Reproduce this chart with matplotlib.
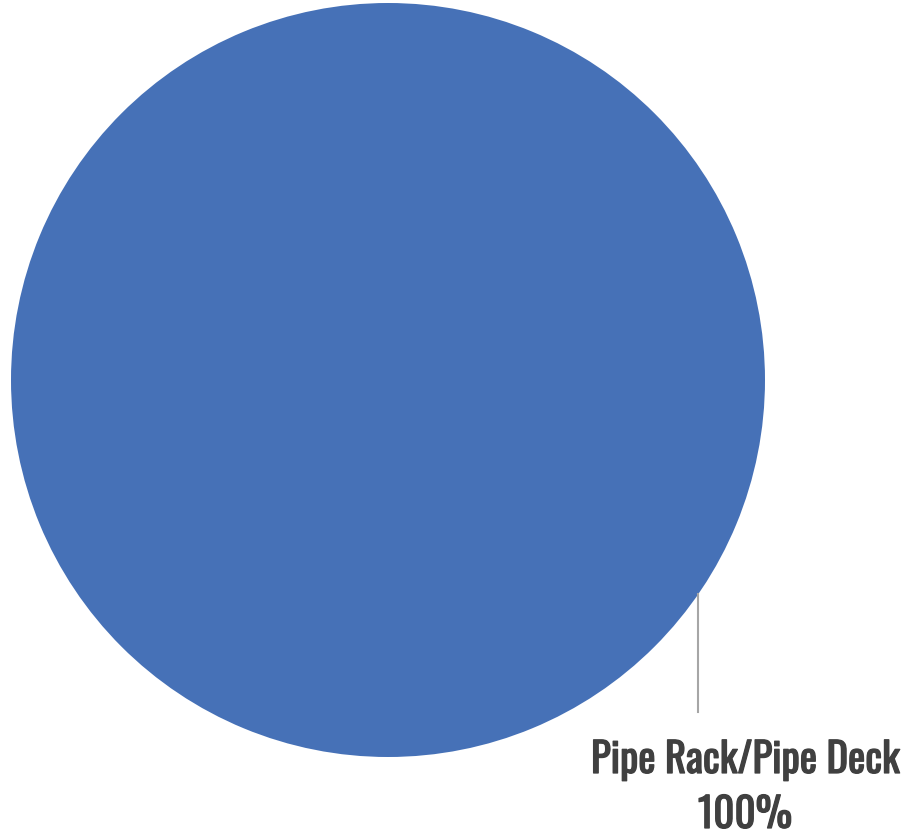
import matplotlib
matplotlib.use("Agg")
import matplotlib.pyplot as plt
import matplotlib.patheffects as pe
from matplotlib import font_manager

# data
categories = ["Pipe Rack/Pipe Deck"]
values = [100]

C_BLUE = "#4671B7"
C_TEXT = "#404040"
C_LINE = "#A6A6A6"

available = {f.name for f in font_manager.fontManager.ttflist}
font = "DejaVu Sans"
for cand in ["Oswald", "Liberation Sans Narrow", "Roboto Condensed", "Roboto"]:
    if cand in available:
        font = cand
        break

fig = plt.figure(figsize=(9.11, 8.35), dpi=100)
ax = fig.add_axes([0, 0, 1, 1])

total = sum(values)
ax.pie(values, colors=[C_BLUE], center=(388, 380), radius=377,
       startangle=90, frame=True, wedgeprops=dict(linewidth=0))
ax.set_xlim(0, 911)
ax.set_ylim(835, 0)
ax.set_aspect("equal")
ax.axis("off")

# leader line + label
ax.plot([698, 698], [594, 712], color=C_LINE, lw=1.5)
bold = [pe.withStroke(linewidth=0.9, foreground=C_TEXT)]
for i, cat in enumerate(categories):
    pct = values[i] / total * 100
    ax.text(745, 773, cat, ha="center", va="baseline", fontsize=29.5,
            fontweight="bold", color=C_TEXT, family=font, path_effects=bold)
    ax.text(745, 828, f"{pct:.0f}%", ha="center", va="baseline", fontsize=29.5,
            fontweight="bold", color=C_TEXT, family=font, path_effects=bold)

fig.savefig("out.png", dpi=100, facecolor="white")
